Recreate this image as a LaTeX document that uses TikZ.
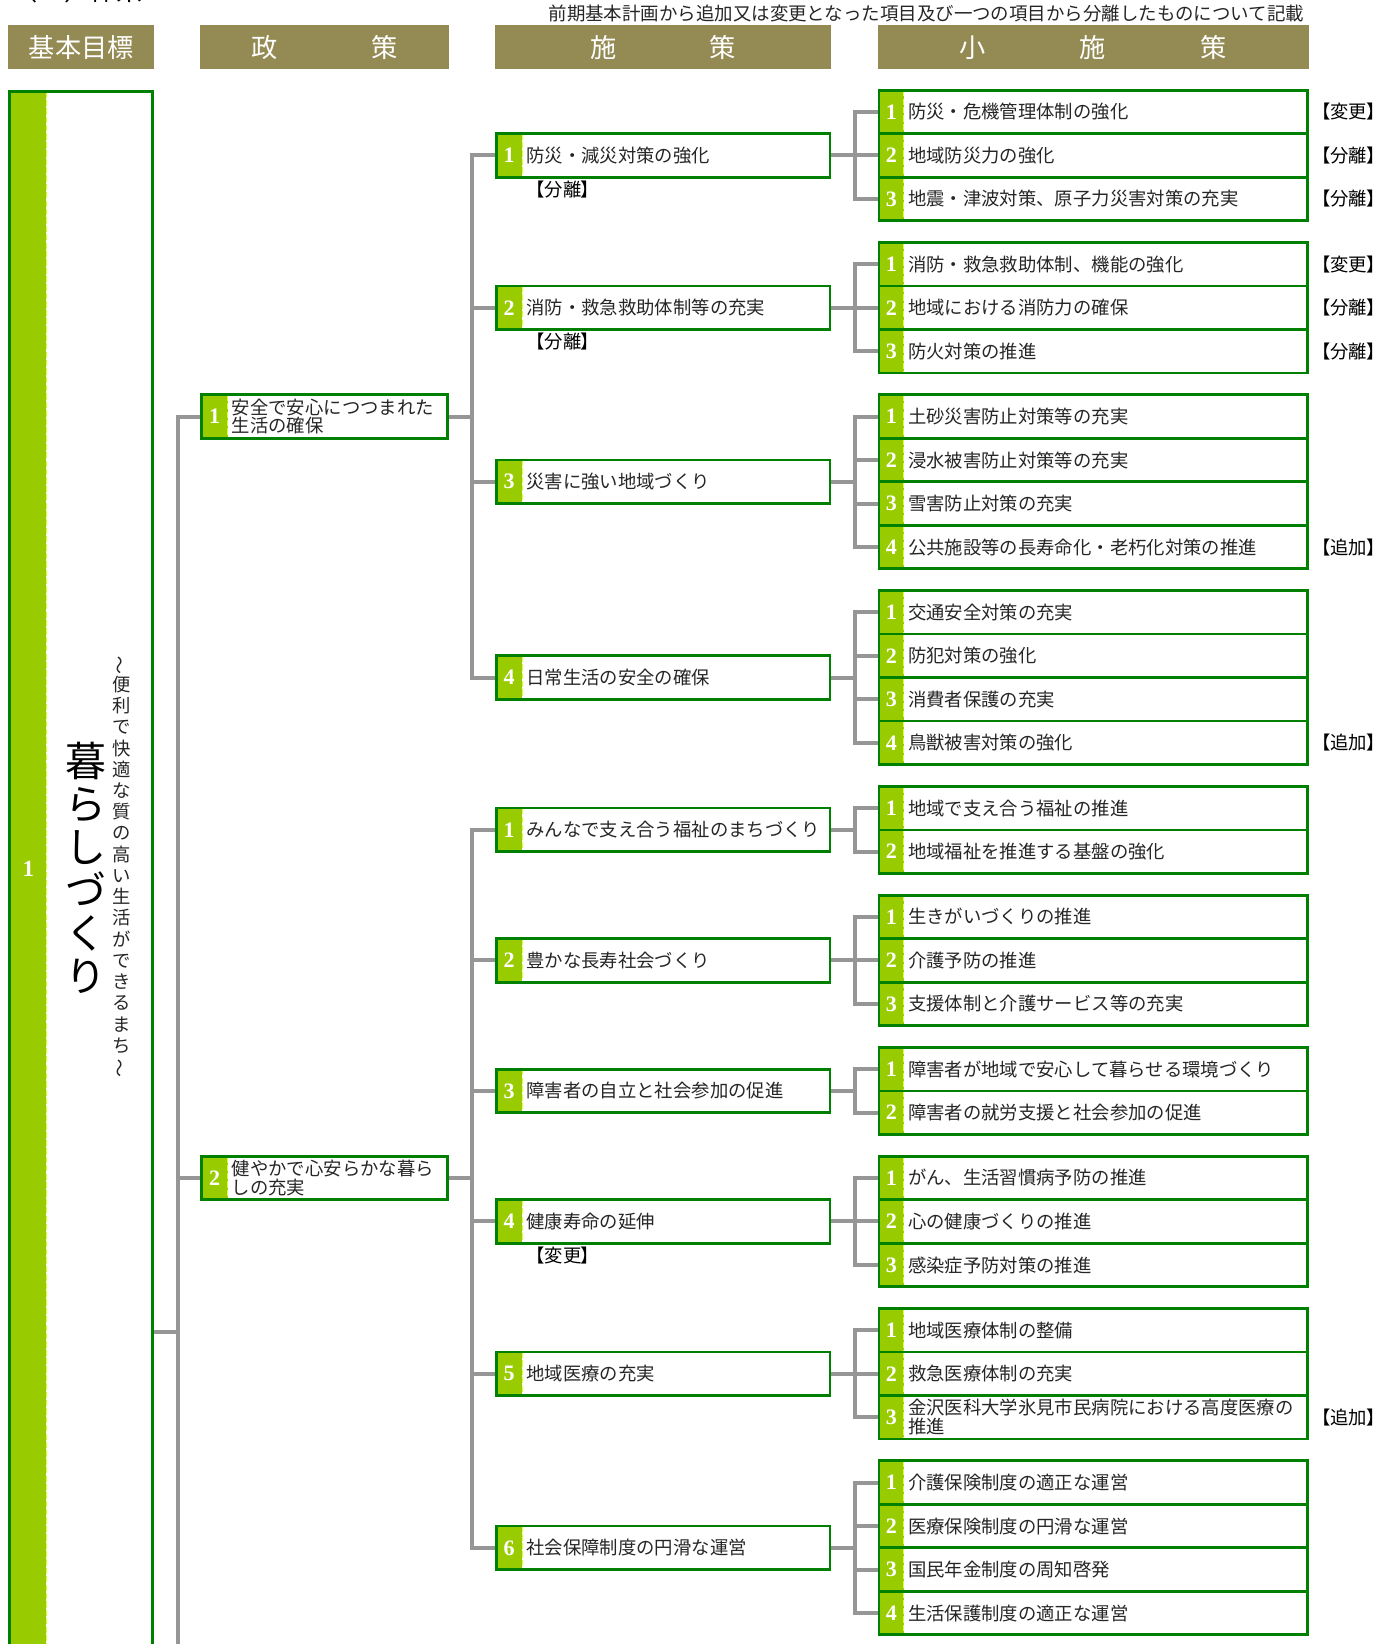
\documentclass[tikz,border=0pt]{standalone}
\usepackage{fontspec}
\setmainfont{Noto Sans CJK JP}
\newfontfamily\jp{Noto Sans CJK JP}
\newfontfamily\jplab{Noto Sans CJK JP}[RawFeature=+palt]
\newfontfamily\numf{Liberation Serif}
\usetikzlibrary{calc}
\pgfdeclarelayer{back}
\pgfdeclarelayer{bg}
\pgfsetlayers{back,bg,main}
\definecolor{olive}{HTML}{948A54}
\definecolor{gborder}{HTML}{008000}
\definecolor{stripe}{HTML}{99CC00}
\definecolor{conncol}{HTML}{969696}
\definecolor{sepcol}{HTML}{D8FF30}
\definecolor{txtcol}{HTML}{262626}
\tikzset{
  conn/.style={draw=conncol, line width=3.8pt},
  hdr/.style={fill=olive, text=white, font=\jp\fontsize{25}{26}\selectfont, minimum height=42pt, inner sep=0pt, outer sep=0pt},
  itembox/.style={draw=gborder, line width=2.6pt, fill=white, inner sep=0pt, outer sep=0pt,
    path picture={
      \fill[stripe] (path picture bounding box.north west) rectangle ([xshift=#1]path picture bounding box.south west);
      \draw[sepcol, line width=0.8pt, dash pattern=on 6pt off 2pt] ([xshift=#1]path picture bounding box.north west) -- ([xshift=#1]path picture bounding box.south west);
    }},
  numst/.style={text=white, font=\numf\bfseries\fontsize{21}{21}\selectfont, inner sep=0pt},
  itemtxt/.style={text=txtcol, font=\jp\fontsize{17.5}{18}\selectfont, inner sep=0pt, align=left},
  lab/.style={text=black, font=\jplab\fontsize{17.5}{18}\selectfont, inner sep=0pt},
}
\newcommand{\mkbox}[8]{%
  \node[itembox=#5, minimum width={#3-#2}, minimum height=#8, anchor=west] (#1) at (#2,#4) {};
  \node[numst] (#1-n) at ([xshift=#5/2]#1.west) {#6};
  \node[itemtxt, anchor=west] (#1-t) at ([xshift=#5+4]#1.west) {#7};
}
\newcommand{\mkrow}[4]{\mkbox{#1}{838.3}{1246.7}{#2}{23.7}{#3}{#4}{41.5}}
\newcommand{\mkshi}[4]{\mkbox{#1}{473.3}{791.7}{#2}{24.7}{#3}{#4}{41.5}}
\newcommand{\mkpol}[4]{\mkbox{#1}{192.3}{426.7}{#2}{24.7}{#3}{#4}{41.5}}
\newcommand{\bracket}[4]{%
  \coordinate (#1-bus) at ([xshift=-23pt]#2.west);
  \begin{pgfonlayer}{bg}
  \draw[conn] (#2.west) -- (#1-bus) |- (#3.west);
  \foreach \m in {#4} {\draw[conn] (\m.west) -- (\m.west -| #1-bus);}
  \draw[conn] (#1.east) -- (#1.east -| #1-bus);
  \end{pgfonlayer}
}
\begin{document}
\begin{tikzpicture}[x=1pt,y=-1pt]
\useasboundingbox (0,0) rectangle (1327,1568);
\clip (0,0) rectangle (1327,1568);
\begin{pgfonlayer}{back}
\fill[white] (0,0) rectangle (1327,1568);
\end{pgfonlayer}

% clipped title at the very top
\node[anchor=base west, inner sep=0pt, text=black, font=\jp\fontsize{25}{26}\selectfont] (toptitle) at (11,0.5) {（１）体系};

% note
\node[anchor=east, inner sep=0pt, text=txtcol, font=\jp\fontsize{17.6}{18}\selectfont] (note) at (1244,13) {前期基本計画から追加又は変更となった項目及び一つの項目から分離したものについて記載};

% headers
\node[hdr, minimum width=139pt] (h1) at (77.5,45) {基本目標};
\node[hdr, minimum width=237pt] (h2) at (309.5,45) {政\hspace{90pt}策};
\node[hdr, minimum width=321pt] (h3) at (632.5,45) {施\hspace{89pt}策};
\node[hdr, minimum width=411pt] (h4) at (1042.5,45) {小\hspace{90pt}施\hspace{90pt}策};

% goal box
\node[itembox=34.7, minimum width=136.4, minimum height=1540, anchor=north west] (goal) at (9.3,87.3) {};
\node[text=white, font=\numf\bfseries\fontsize{22}{22}\selectfont, inner sep=0pt] (goal-n) at (27,829) {1};
\node[text=black, font=\jp\fontsize{39}{41}\selectfont, align=center, inner sep=0pt] (goal-t) at (82,828) {暮\\ら\\し\\づ\\く\\り};
\node[text=txtcol, font=\jp\fontsize{17.5}{20.25}\selectfont, align=center, inner sep=0pt] (goal-s) at (116,827)
 {\rotatebox[origin=c]{90}{～}\\便\\利\\で\\快\\適\\な\\質\\の\\高\\い\\生\\活\\が\\で\\き\\る\\ま\\ち\\\rotatebox[origin=c]{90}{～}};

% policies
\mkpol{p1}{397.25}{1}{安全で安心につつまれた\\生活の確保}
\mkpol{p2}{1123.5}{2}{健やかで心安らかな暮ら\\しの充実}

% shisaku
\mkshi{s11}{148.25}{1}{防災・減災対策の強化}
\mkshi{s12}{293.5}{2}{消防・救急救助体制等の充実}
\mkshi{s13}{459.5}{3}{災害に強い地域づくり}
\mkshi{s14}{646.25}{4}{日常生活の安全の確保}
\mkshi{s21}{791.5}{1}{みんなで支え合う福祉のまちづくり}
\mkshi{s22}{916}{2}{豊かな長寿社会づくり}
\mkshi{s23}{1040.5}{3}{障害者の自立と社会参加の促進}
\mkshi{s24}{1165}{4}{健康寿命の延伸}
\mkshi{s25}{1310.25}{5}{地域医療の充実}
\mkshi{s26}{1476.25}{6}{社会保障制度の円滑な運営}

\node[lab] (s11-lab) at (537,181) {【分離】};
\node[lab] (s12-lab) at (537,326) {【分離】};
\node[lab] (s24-lab) at (537,1197) {【変更】};

% sub rows
\mkrow{g1r1}{106.75}{1}{防災・危機管理体制の強化}
\mkrow{g1r2}{148.25}{2}{地域防災力の強化}
\mkrow{g1r3}{189.75}{3}{地震・津波対策、原子力災害対策の充実}
\mkrow{g2r1}{252}{1}{消防・救急救助体制、機能の強化}
\mkrow{g2r2}{293.5}{2}{地域における消防力の確保}
\mkrow{g2r3}{335}{3}{防火対策の推進}
\mkrow{g3r1}{397.25}{1}{土砂災害防止対策等の充実}
\mkrow{g3r2}{438.75}{2}{浸水被害防止対策等の充実}
\mkrow{g3r3}{480.25}{3}{雪害防止対策の充実}
\mkrow{g3r4}{521.75}{4}{公共施設等の長寿命化・老朽化対策の推進}
\mkrow{g4r1}{584}{1}{交通安全対策の充実}
\mkrow{g4r2}{625.5}{2}{防犯対策の強化}
\mkrow{g4r3}{667}{3}{消費者保護の充実}
\mkrow{g4r4}{708.5}{4}{鳥獣被害対策の強化}
\mkrow{g5r1}{770.75}{1}{地域で支え合う福祉の推進}
\mkrow{g5r2}{812.25}{2}{地域福祉を推進する基盤の強化}
\mkrow{g6r1}{874.5}{1}{生きがいづくりの推進}
\mkrow{g6r2}{916}{2}{介護予防の推進}
\mkrow{g6r3}{957.5}{3}{支援体制と介護サービス等の充実}
\mkrow{g7r1}{1019.75}{1}{障害者が地域で安心して暮らせる環境づくり}
\mkrow{g7r2}{1061.25}{2}{障害者の就労支援と社会参加の促進}
\mkrow{g8r1}{1123.5}{1}{がん、生活習慣病予防の推進}
\mkrow{g8r2}{1165}{2}{心の健康づくりの推進}
\mkrow{g8r3}{1206.5}{3}{感染症予防対策の推進}
\mkrow{g9r1}{1268.75}{1}{地域医療体制の整備}
\mkrow{g9r2}{1310.25}{2}{救急医療体制の充実}
\mkrow{g9r3}{1351.75}{3}{金沢医科大学氷見市民病院における高度医療の\\推進}
\mkrow{g10r1}{1414}{1}{介護保険制度の適正な運営}
\mkrow{g10r2}{1455.5}{2}{医療保険制度の円滑な運営}
\mkrow{g10r3}{1497}{3}{国民年金制度の周知啓発}
\mkrow{g10r4}{1538.5}{4}{生活保護制度の適正な運営}

% right labels
\node[lab] (l-g1r1) at (1286,106.75) {【変更】};
\node[lab] (l-g1r2) at (1286,148.25) {【分離】};
\node[lab] (l-g1r3) at (1286,189.75) {【分離】};
\node[lab] (l-g2r1) at (1286,252) {【変更】};
\node[lab] (l-g2r2) at (1286,293.5) {【分離】};
\node[lab] (l-g2r3) at (1286,335) {【分離】};
\node[lab] (l-g3r4) at (1286,521.75) {【追加】};
\node[lab] (l-g4r4) at (1286,708.5) {【追加】};
\node[lab] (l-g9r3) at (1286,1351.75) {【追加】};

% connectors
\coordinate (pbus) at (170,1270);
\coordinate (pbusend) at (170,1600);
\begin{pgfonlayer}{bg}
\draw[conn] (goal.east |- pbus) -- (pbus);
\draw[conn] (p1.west) -| (pbusend);
\draw[conn] (p2.west) -- (p2.west -| pbus);
\end{pgfonlayer}
\bracket{p1}{s11}{s14}{s12,s13}
\bracket{p2}{s21}{s26}{s22,s23,s24,s25}
\bracket{s11}{g1r1}{g1r3}{g1r2}
\bracket{s12}{g2r1}{g2r3}{g2r2}
\bracket{s13}{g3r1}{g3r4}{g3r2,g3r3}
\bracket{s14}{g4r1}{g4r4}{g4r2,g4r3}
\bracket{s21}{g5r1}{g5r2}{g5r1}
\bracket{s22}{g6r1}{g6r3}{g6r2}
\bracket{s23}{g7r1}{g7r2}{g7r1}
\bracket{s24}{g8r1}{g8r3}{g8r2}
\bracket{s25}{g9r1}{g9r3}{g9r2}
\bracket{s26}{g10r1}{g10r4}{g10r2,g10r3}
\end{tikzpicture}
\end{document}
